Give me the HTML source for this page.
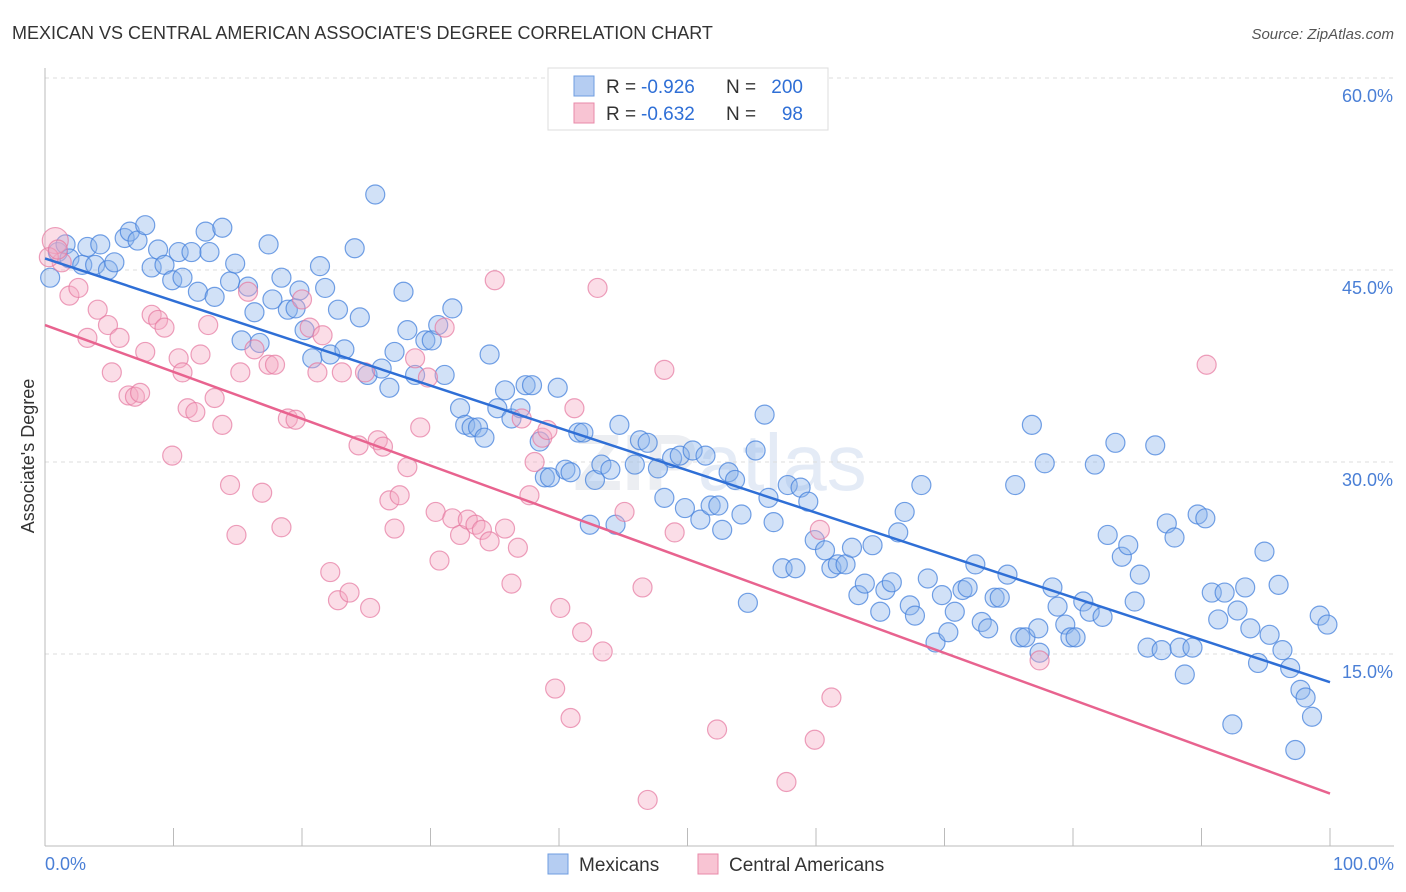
<!DOCTYPE html>
<html><head><meta charset="utf-8">
<style>
body{margin:0;background:#fff;font-family:"Liberation Sans",sans-serif;}
#c{position:absolute;left:0;top:0;}
</style></head>
<body>
<svg id="c" width="1406" height="892" xmlns="http://www.w3.org/2000/svg">
<text x="12" y="39" font-size="18" fill="#333">MEXICAN VS CENTRAL AMERICAN ASSOCIATE'S DEGREE CORRELATION CHART</text>
<text x="1394" y="39" font-size="15" fill="#555" font-style="italic" text-anchor="end">Source: ZipAtlas.com</text>
<text x="720" y="490" font-size="80" fill="#eceef2" text-anchor="middle" font-weight="bold">ZIP<tspan font-weight="normal" fill="#e4ebf6">atlas</tspan></text>
<g id="grid"></g>
<g id="axes"></g>
<g id="pts"></g>
<g id="lines"></g>
<text transform="translate(34,456) rotate(-90)" font-size="18" fill="#333" text-anchor="middle">Associate's Degree</text>
<text x="45" y="870" font-size="18" fill="#4a7fd6">0.0%</text>
<text x="1394" y="870" font-size="18" fill="#4a7fd6" text-anchor="end">100.0%</text>
<g>
<rect x="548" y="68" width="280" height="62" fill="#fff" stroke="#ddd"/>
<rect x="574" y="76" width="20" height="20" fill="#b5cdf2" stroke="#6f9de0"/>
<rect x="574" y="103" width="20" height="20" fill="#f8c4d3" stroke="#e88aa8"/>
<text x="606" y="93" font-size="19" fill="#333">R =</text>
<text x="641" y="93" font-size="19" fill="#2f6fd6">-0.926</text>
<text x="726" y="93" font-size="19" fill="#333">N =</text>
<text x="803" y="93" font-size="19" fill="#2f6fd6" text-anchor="end">200</text>
<text x="606" y="120" font-size="19" fill="#333">R =</text>
<text x="641" y="120" font-size="19" fill="#2f6fd6">-0.632</text>
<text x="726" y="120" font-size="19" fill="#333">N =</text>
<text x="803" y="120" font-size="19" fill="#2f6fd6" text-anchor="end">98</text>
</g>
<g>
<rect x="548" y="854" width="20" height="20" fill="#b5cdf2" stroke="#6f9de0"/>
<text x="579" y="871" font-size="19" fill="#333">Mexicans</text>
<rect x="698" y="854" width="20" height="20" fill="#f8c4d3" stroke="#e88aa8"/>
<text x="729" y="871" font-size="19" fill="#333">Central Americans</text>
</g>
</svg>
<script>
const yTicks=[15,30,45,60];
const xTicks=[0,10,20,30,40,50,60,70,80,90,100];
const blueX=[0.4,1.0,1.6,1.9,2.9,3.3,3.9,4.3,4.9,5.4,6.2,6.6,7.2,7.8,8.3,8.8,9.3,9.9,10.4,10.7,11.4,11.9,12.5,12.8,13.2,13.8,14.4,14.8,15.3,15.8,16.3,16.7,17.4,17.7,18.4,18.9,19.5,19.8,20.2,20.8,21.4,21.8,22.2,22.8,23.3,24.1,24.5,25.1,25.7,26.2,26.8,27.2,27.9,28.2,28.8,29.6,30.1,30.6,31.1,31.7,32.3,32.7,33.2,33.7,34.2,34.6,35.2,35.8,36.3,37.0,37.4,37.9,38.5,38.9,39.3,39.9,40.5,40.9,41.5,41.9,42.4,42.8,43.3,44.0,44.4,44.7,45.9,46.3,46.9,47.7,48.2,48.8,49.4,49.8,50.4,51.0,51.4,51.8,52.4,52.7,53.2,53.7,54.2,54.7,55.3,56.0,56.3,56.7,57.4,57.8,58.4,58.8,59.4,59.9,60.7,61.2,61.7,62.3,62.8,63.3,63.8,64.4,65.0,65.4,65.9,66.4,66.9,67.3,67.7,68.2,68.7,69.3,69.8,70.3,70.8,71.4,71.8,72.4,72.9,73.4,73.9,74.3,74.9,75.5,75.9,76.3,76.8,77.3,77.4,77.8,78.4,78.8,79.4,79.8,80.2,80.8,81.3,81.7,82.3,82.7,83.3,83.8,84.3,84.8,85.2,85.8,86.4,86.9,87.3,87.9,88.3,88.7,89.3,89.7,90.3,90.8,91.3,91.8,92.4,92.8,93.4,93.8,94.4,94.9,95.3,96.0,96.3,96.9,97.7,98.1,98.6,97.3,99.2,99.8];
const blueY=[44.4,46.4,47.0,45.9,45.4,46.8,45.4,47.0,45.0,45.6,47.5,48.0,47.3,48.5,45.2,46.6,45.4,44.2,46.4,44.4,46.4,43.3,48.0,46.4,42.9,48.3,44.1,45.5,39.5,43.7,41.7,39.3,47.0,42.7,44.4,41.9,42.0,43.4,40.3,38.1,45.3,43.6,38.4,41.9,38.8,46.7,41.3,36.8,50.9,37.3,35.8,38.6,43.3,40.3,36.8,39.5,39.5,40.7,36.8,42.0,34.2,32.9,32.7,32.7,31.9,38.4,34.2,35.6,33.4,34.2,36.0,36.0,31.6,28.8,28.8,35.8,29.4,29.2,32.3,32.3,25.1,28.6,29.8,29.4,25.1,32.9,29.8,31.7,31.5,29.5,27.2,30.3,30.5,26.4,30.9,25.5,30.5,26.6,26.6,24.7,29.2,28.6,25.9,19.0,30.9,33.7,27.2,25.3,21.7,28.2,21.7,28.0,26.9,23.9,23.1,21.7,22.0,22.0,23.3,19.6,20.5,23.5,18.3,20.0,20.6,24.5,26.1,18.8,18.0,28.2,20.9,15.9,19.6,16.7,18.3,20.0,20.2,22.0,17.5,17.0,19.4,19.4,21.2,28.2,16.3,16.3,32.9,17.0,15.1,29.9,20.2,18.7,17.3,16.3,16.3,19.1,18.3,29.8,17.9,24.3,31.5,22.6,23.5,19.1,21.2,15.5,31.3,15.3,25.2,24.1,15.5,13.4,15.5,25.9,25.6,19.8,17.7,19.8,9.5,18.4,20.2,17.0,14.3,23.0,16.5,20.4,15.3,13.9,12.2,11.6,10.1,7.5,18.0,17.3];
const pinkX=[0.8,1.3,1.9,2.6,3.3,4.1,4.9,5.2,5.8,6.5,7.0,7.4,7.8,8.3,8.8,9.3,9.9,10.4,10.7,11.1,11.7,12.1,12.7,13.2,13.8,14.4,14.9,15.2,15.8,16.3,16.9,17.4,17.9,18.4,18.9,19.5,20.0,20.6,21.2,21.6,22.2,22.8,23.1,23.7,24.4,24.9,25.3,25.9,26.3,26.8,27.2,27.6,28.2,28.8,29.2,29.8,30.4,30.7,31.1,31.7,32.3,32.9,33.5,34.0,34.6,35.0,35.8,36.3,36.8,37.1,37.7,38.1,38.7,39.1,39.7,40.1,40.9,41.2,41.8,43.0,43.4,45.1,46.5,46.9,48.2,49.0,52.3,57.7,59.9,60.3,61.2,77.4,90.4,0.3,1.0];
const pinkY=[47.3,45.6,43.0,43.6,39.7,41.9,40.7,37.0,39.7,35.2,35.1,35.4,38.6,41.5,41.1,40.5,30.5,38.1,37.0,34.2,33.9,38.4,40.7,35.0,32.9,28.2,24.3,37.0,43.3,38.8,27.6,37.6,37.6,24.9,33.4,33.3,42.7,40.5,37.0,39.9,21.4,19.2,37.0,19.8,31.3,37.0,18.6,31.7,31.2,27.0,24.8,27.4,29.6,38.1,32.7,36.6,26.1,22.3,40.5,25.6,24.3,25.5,25.1,24.7,23.8,44.2,24.8,20.5,23.3,33.4,27.4,30.0,31.9,32.5,12.3,18.6,10.0,34.2,16.7,43.6,15.2,26.1,20.2,3.6,37.2,24.5,9.1,5.0,8.3,24.7,11.6,14.5,37.6,46.0,46.6];
const trendBlue=[45.9,12.8];
const trendPink=[40.7,4.1];
const X0=45,X1=1330,Y0=846,YS=12.8;
function sx(v){return X0+(X1-X0)*v/100;}
function sy(v){return Y0-v*YS;}
const NS='http://www.w3.org/2000/svg';
function mk(t,a,p){const e=document.createElementNS(NS,t);for(const k in a)e.setAttribute(k,a[k]);p.appendChild(e);return e;}
const grid=document.getElementById('grid'),axes=document.getElementById('axes'),pts=document.getElementById('pts'),lines=document.getElementById('lines');
yTicks.forEach(t=>{
 const l=mk('line',{x1:45,x2:1394,y1:sy(t),y2:sy(t),stroke:'#dcdcdc','stroke-dasharray':'4,4'},grid);
 
 
 const tx=mk('text',{x:1393,y:sy(t)+24,'font-size':18,fill:'#4a7fd6','text-anchor':'end'},grid);
 tx.textContent=t.toFixed(1)+'%';
 
 
});
const ax=mk('line',{x1:45,x2:1394,y1:846,y2:846,stroke:'#bbb'},axes);


const ay=mk('line',{x1:45,x2:45,y1:68,y2:846,stroke:'#bbb'},axes);


xTicks.forEach(t=>{
 const l=mk('line',{x1:sx(t),x2:sx(t),y1:828,y2:846,stroke:'#bbb'},axes);
 
 
});
blueX.forEach((x,i)=>{
 const c=mk('circle',{cx:sx(x),cy:sy(blueY[i]),r:9.5,fill:'rgba(140,180,235,0.4)',stroke:'rgba(70,130,220,0.75)','stroke-width':1.2},pts);
 
 
});
pinkX.forEach((x,i)=>{
 const c=mk('circle',{cx:sx(x),cy:sy(pinkY[i]),r:i==0?13:9.5,fill:'rgba(245,170,195,0.4)',stroke:'rgba(230,120,160,0.7)','stroke-width':1.2},pts);
 
 
});
const lb=mk('line',{x1:sx(0),y1:sy(trendBlue[0]),x2:sx(100),y2:sy(trendBlue[1]),stroke:'#2f6fd6','stroke-width':2.5},lines);


const lp=mk('line',{x1:sx(0),y1:sy(trendPink[0]),x2:sx(100),y2:sy(trendPink[1]),stroke:'#e8638f','stroke-width':2.5},lines);


</script>
</body></html>
